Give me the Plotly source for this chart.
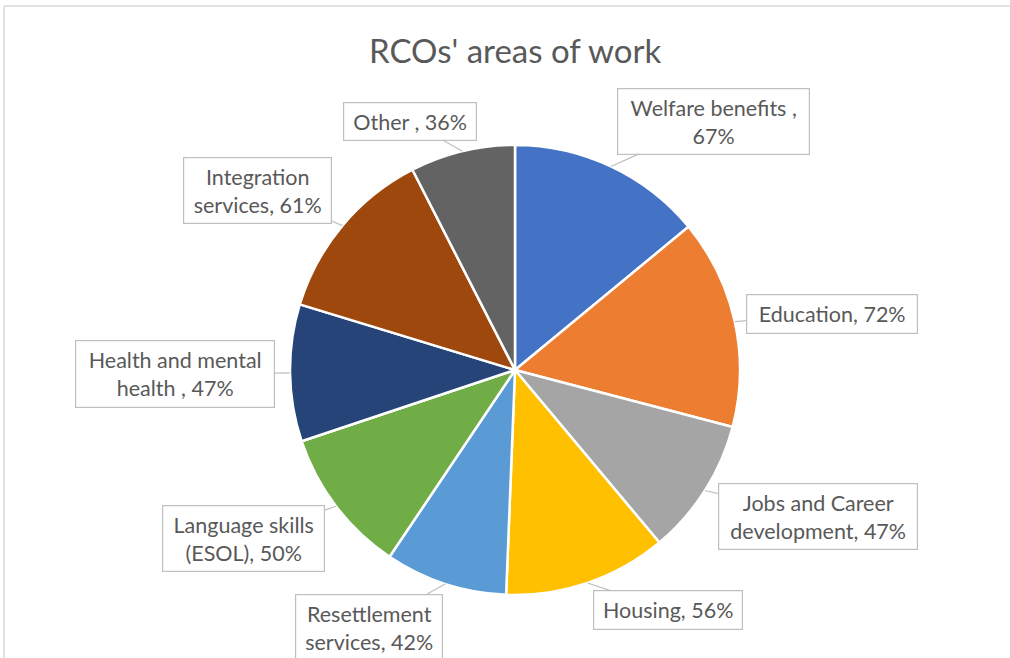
import math
import plotly.graph_objects as go

# Share of RCOs working in each area (%)
areas = [
    "Welfare benefits ,",
    "Education,",
    "Jobs and Career development,",
    "Housing,",
    "Resettlement services,",
    "Language skills (ESOL),",
    "Health and mental health ,",
    "Integration services,",
    "Other ,",
]
shares = [67, 72, 47, 56, 42, 50, 47, 61, 36]
colors = ["#4472C4", "#ED7D31", "#A5A5A5", "#FFC000", "#5B9BD5",
          "#70AD47", "#264478", "#9E480E", "#636363"]

# Callout text (line-broken) for each slice
callout_text = [
    "Welfare benefits ,<br>67%",
    "Education, 72%",
    "Jobs and Career<br>development, 47%",
    "Housing, 56%",
    "Resettlement<br>services, 42%",
    "Language skills<br>(ESOL), 50%",
    "Health and mental<br>health , 47%",
    "Integration<br>services, 61%",
    "Other , 36%",
]
# Callout box centres and sizes, in page pixels (x, y, w, h)
callout_boxes = [
    (713, 121, 193, 67),
    (832, 314, 172, 40),
    (818, 516, 200, 67),
    (668, 610, 150, 40),
    (369, 627, 148, 67),
    (243, 538, 163, 67),
    (175, 374, 200, 68),
    (257, 190, 149, 67),
    (410, 121, 134, 39),
]

W, H = 1010, 658
CX, CY, R = 515, 370, 225
TEXT = "#595959"
FONT = "Lato"

fig = go.Figure()
fig.add_trace(go.Pie(
    labels=areas,
    values=shares,
    sort=False,
    direction="clockwise",
    rotation=0,
    marker=dict(colors=colors, line=dict(color="white", width=2.5)),
    textinfo="none",
    hoverinfo="label+value",
    showlegend=False,
    domain=dict(x=[(CX - R) / W, (CX + R) / W],
                y=[1 - (CY + R) / H, 1 - (CY - R) / H]),
))

# Invisible pixel-scaled axes used to place callouts and the frame
fig.add_trace(go.Scatter(x=[], y=[], showlegend=False, hoverinfo="skip"))

total = sum(shares)
annotations = []
cum = 0.0
for val, txt, (bx, by, bw, bh) in zip(shares, callout_text, callout_boxes):
    mid = (cum + val / 2) / total * 2 * math.pi
    cum += val
    tx = CX + R * math.sin(mid)
    ty = CY - R * math.cos(mid)
    annotations.append(dict(
        x=tx, y=ty, xref="x", yref="y",
        ax=bx, ay=by, axref="x", ayref="y",
        text=txt, showarrow=True, arrowhead=0, arrowwidth=1.2,
        arrowcolor="#BFBFBF", standoff=0,
        font=dict(family=FONT, size=21.5, color=TEXT),
        bgcolor="white", bordercolor="#BFBFBF", borderwidth=1.2,
        borderpad=0, width=bw - 2, height=bh - 2, align="center",
        valign="middle",
    ))

annotations.append(dict(
    x=515, y=50, xref="x", yref="y", showarrow=False,
    text="RCOs' areas of work",
    font=dict(family=FONT, size=33, color=TEXT),
))

fig.update_layout(
    width=W, height=H,
    margin=dict(l=0, r=0, t=0, b=0),
    paper_bgcolor="white", plot_bgcolor="rgba(0,0,0,0)",
    xaxis=dict(range=[0, W], visible=False, fixedrange=True, domain=[0, 1]),
    yaxis=dict(range=[H, 0], visible=False, fixedrange=True, domain=[0, 1]),
    annotations=annotations,
    shapes=[
        dict(type="line", xref="x", yref="y", x0=4, y0=6, x1=W, y1=6,
             line=dict(color="#D9D9D9", width=1.5)),
        dict(type="line", xref="x", yref="y", x0=4, y0=6, x1=4, y1=H,
             line=dict(color="#D9D9D9", width=1.5)),
    ],
)

fig.write_html("out.html")
